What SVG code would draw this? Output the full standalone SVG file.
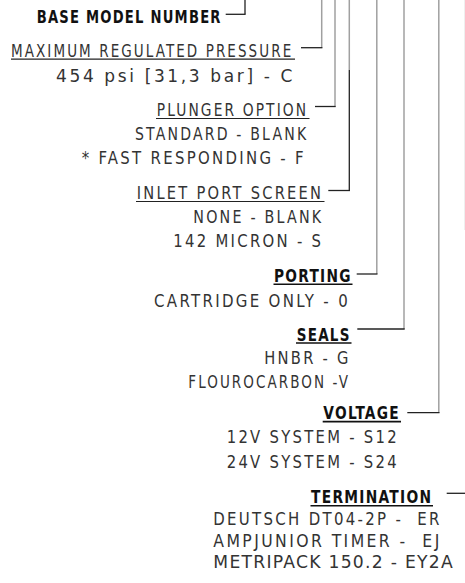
<svg xmlns="http://www.w3.org/2000/svg" width="465" height="583" viewBox="0 0 465 583">
<style>
text{font-family:"Liberation Sans Narrow","DejaVu Sans Condensed","Liberation Sans",sans-serif;font-size:18px;fill:#333;text-anchor:end;white-space:pre;letter-spacing:2.5px}
.b{font-weight:bold;fill:#111;letter-spacing:1.5px}
.t{letter-spacing:1.2px}
.ul{stroke:#222;stroke-width:1.2}
.ulb{stroke:#111;stroke-width:1.6}
.v{stroke:#a0a0a0;stroke-width:1.5;fill:none}
.vd{stroke:#222;stroke-width:1.3;fill:none}
.h{stroke:#222;stroke-width:1.3}
</style>
<rect width="465" height="583" fill="#fff"/>
<g id="connectors">
<line class="vd" x1="245" y1="0" x2="245" y2="14.3"/>
<line class="h" x1="225.7" y1="14.3" x2="245.6" y2="14.3"/>
<line class="v" x1="321.7" y1="0" x2="321.7" y2="47.7"/>
<line class="h" x1="301" y1="47.7" x2="322.4" y2="47.7"/>
<line class="v" x1="335" y1="0" x2="335" y2="106.5"/>
<line class="h" x1="315" y1="106.5" x2="335.7" y2="106.5"/>
<line class="v" x1="349.3" y1="0" x2="349.3" y2="70"/>
<line class="vd" x1="349.3" y1="70" x2="349.3" y2="190.5"/>
<line class="h" x1="328.3" y1="190.5" x2="350" y2="190.5"/>
<line class="v" x1="376.8" y1="0" x2="376.8" y2="274"/>
<line class="h" x1="356.7" y1="274" x2="377.5" y2="274"/>
<line class="v" x1="404" y1="0" x2="404" y2="329"/>
<line class="h" x1="357.3" y1="329" x2="404.7" y2="329"/>
<line class="v" x1="438.8" y1="0" x2="438.8" y2="412.7"/>
<line class="h" x1="407.3" y1="412.7" x2="439.5" y2="412.7"/>
<line x1="464.6" y1="0" x2="464.6" y2="230" stroke="#eee" stroke-width="1"/>
<line class="h" x1="446.7" y1="493.3" x2="465" y2="493.3"/>
</g>
<g id="base-model-number">
<text class="b" x="221.7" y="22.7" textLength="185" lengthAdjust="spacingAndGlyphs">BASE MODEL NUMBER</text>
</g>
<g id="maximum-regulated-pressure">
<text x="293.3" y="56.7" textLength="282.3" lengthAdjust="spacingAndGlyphs">MAXIMUM REGULATED PRESSURE</text>
<line class="ul" x1="11" y1="59.2" x2="295" y2="59.2"/>
<text x="295" y="81.7" textLength="239" lengthAdjust="spacingAndGlyphs">454 psi [31,3 bar] - C</text>
</g>
<g id="plunger-option">
<text x="308.3" y="116" textLength="151.6" lengthAdjust="spacingAndGlyphs">PLUNGER OPTION</text>
<line class="ul" x1="156" y1="118.5" x2="309.5" y2="118.5"/>
<text x="308.3" y="140" textLength="173.3" lengthAdjust="spacingAndGlyphs">STANDARD - BLANK</text>
<text x="306" y="164" textLength="224.3" lengthAdjust="spacingAndGlyphs">* FAST RESPONDING - F</text>
</g>
<g id="inlet-port-screen">
<text x="323.3" y="199.3" textLength="186.6" lengthAdjust="spacingAndGlyphs">INLET PORT SCREEN</text>
<line class="ul" x1="136" y1="201.5" x2="324.5" y2="201.5"/>
<text x="323.3" y="223.3" textLength="130" lengthAdjust="spacingAndGlyphs">NONE - BLANK</text>
<text x="323.3" y="247.3" textLength="150" lengthAdjust="spacingAndGlyphs">142 MICRON - S</text>
</g>
<g id="porting">
<text class="b" x="351.7" y="281.7" textLength="77.7" lengthAdjust="spacingAndGlyphs">PORTING</text>
<line class="ulb" x1="273.5" y1="284.3" x2="352.5" y2="284.3"/>
<text x="350" y="306.7" textLength="196" lengthAdjust="spacingAndGlyphs">CARTRIDGE ONLY - 0</text>
</g>
<g id="seals">
<text class="b" x="350.7" y="340.5" textLength="54" lengthAdjust="spacingAndGlyphs">SEALS</text>
<line class="ulb" x1="296" y1="343" x2="351.5" y2="343"/>
<text x="350.7" y="364" textLength="86.4" lengthAdjust="spacingAndGlyphs">HNBR - G</text>
<text x="350" y="388.3" textLength="161.7" lengthAdjust="spacingAndGlyphs">FLOUROCARBON -V</text>
</g>
<g id="voltage">
<text class="b" x="400" y="419.3" textLength="76.7" lengthAdjust="spacingAndGlyphs">VOLTAGE</text>
<line class="ulb" x1="322.7" y1="421.6" x2="401" y2="421.6"/>
<text x="399" y="442.7" textLength="172.3" lengthAdjust="spacingAndGlyphs">12V SYSTEM - S12</text>
<text x="399" y="468.3" textLength="172.3" lengthAdjust="spacingAndGlyphs">24V SYSTEM - S24</text>
</g>
<g id="termination">
<text class="b" x="432.3" y="503.3" textLength="121.3" lengthAdjust="spacingAndGlyphs">TERMINATION</text>
<line class="ulb" x1="310.5" y1="505.8" x2="433" y2="505.8"/>
<text x="441.7" y="525" textLength="228.4" lengthAdjust="spacingAndGlyphs">DEUTSCH DT04-2P -  ER</text>
<text x="441.7" y="546.7" textLength="228.4" lengthAdjust="spacingAndGlyphs">AMPJUNIOR TIMER -  EJ</text>
<text class="t" x="454" y="568.3" textLength="240.7" lengthAdjust="spacingAndGlyphs">METRIPACK 150.2 - EY2A</text>
</g>
</svg>
